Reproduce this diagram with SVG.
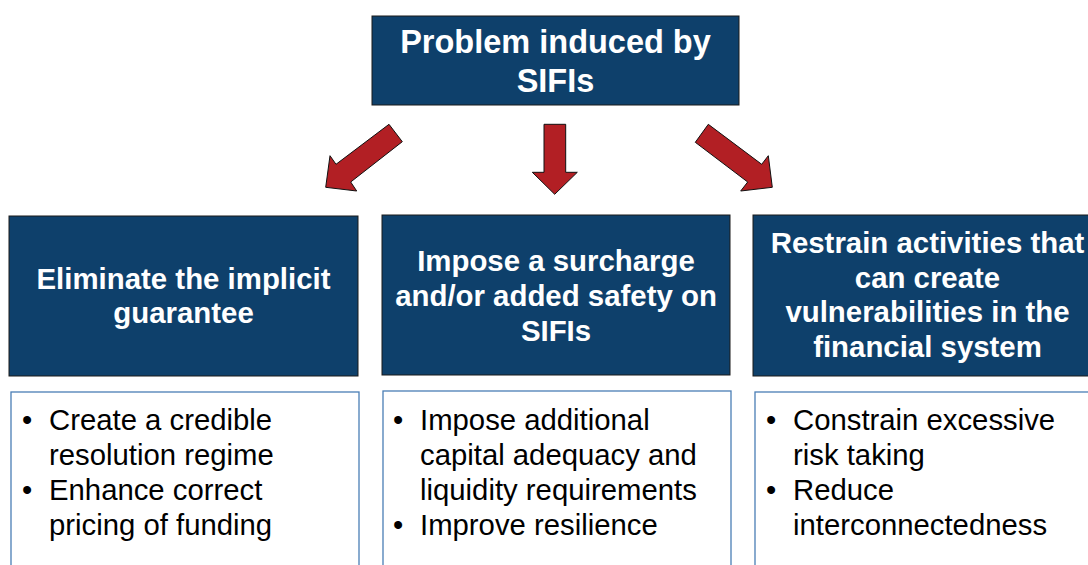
<svg xmlns="http://www.w3.org/2000/svg" width="1088" height="565" viewBox="0 0 1088 565">
<style>
.hdr{fill:#0e406b;stroke:#1a1a1a;stroke-width:1}
.list{fill:#ffffff;stroke:#4a7eb5;stroke-width:1.3}
.ht{font-family:"Liberation Sans",Arial,sans-serif;font-weight:bold;fill:#ffffff;text-anchor:middle}
.bt{font-family:"Liberation Sans",Arial,sans-serif;font-size:29.3px;fill:#000000}
.arr{fill:#b21f24;stroke:#111111;stroke-width:1;stroke-linejoin:miter}
</style>
<rect width="1088" height="565" fill="#ffffff"/>
<g id="top">
<rect class="hdr" x="372" y="16" width="367" height="89"/>
<text class="ht" font-size="32.5" x="555.5" y="53">Problem induced by</text>
<text class="ht" font-size="32.5" x="555.5" y="92">SIFIs</text>
</g>
<g id="connectors">
<polygon class="arr" points="389,124.3 402.3,141.7 350.7,182 356.7,191 325.7,187.3 330,155.7 336,164.3"/>
<polygon class="arr" points="544,124.3 565.7,124.3 565.7,172.3 577.3,172.3 554.7,194.3 532.3,172.3 544,172.3"/>
<polygon class="arr" points="708.3,124.3 695.3,142.3 747.7,182 740.7,191 772.3,187.3 768.3,155.7 761.7,164.3"/>
</g>
<g id="col1">
<rect class="hdr" x="9" y="216" width="349" height="160"/>
<text class="ht" font-size="29.4" x="183.5" y="289">Eliminate the implicit</text>
<text class="ht" font-size="29.4" x="183.5" y="323">guarantee</text>
</g>
<g id="col1-list">
<rect class="list" x="11" y="392" width="348" height="190"/>
<text class="bt" x="22" y="430">•</text>
<text class="bt" x="49" y="430">Create a credible</text>
<text class="bt" x="49" y="465">resolution regime</text>
<text class="bt" x="22" y="500">•</text>
<text class="bt" x="49" y="500">Enhance correct</text>
<text class="bt" x="49" y="535">pricing of funding</text>
</g>
<g id="col2">
<rect class="hdr" x="382" y="215" width="348" height="160"/>
<text class="ht" font-size="29.4" x="556" y="271">Impose a surcharge</text>
<text class="ht" font-size="29.4" x="556" y="306">and/or added safety on</text>
<text class="ht" font-size="29.4" x="556" y="341">SIFIs</text>
</g>
<g id="col2-list">
<rect class="list" x="383" y="391" width="348" height="190"/>
<text class="bt" x="393" y="430">•</text>
<text class="bt" x="420" y="430">Impose additional</text>
<text class="bt" x="420" y="465">capital adequacy and</text>
<text class="bt" x="420" y="500">liquidity requirements</text>
<text class="bt" x="393" y="535">•</text>
<text class="bt" x="420" y="535">Improve resilience</text>
</g>
<g id="col3">
<rect class="hdr" x="753" y="215" width="349" height="161"/>
<text class="ht" font-size="29.4" x="927.5" y="253">Restrain activities that</text>
<text class="ht" font-size="29.4" x="927.5" y="288">can create</text>
<text class="ht" font-size="29.4" x="927.5" y="322">vulnerabilities in the</text>
<text class="ht" font-size="29.4" x="927.5" y="357">financial system</text>
</g>
<g id="col3-list">
<rect class="list" x="755" y="392" width="348" height="190"/>
<text class="bt" x="766" y="430">•</text>
<text class="bt" x="793" y="430">Constrain excessive</text>
<text class="bt" x="793" y="465">risk taking</text>
<text class="bt" x="766" y="500">•</text>
<text class="bt" x="793" y="500">Reduce</text>
<text class="bt" x="793" y="535">interconnectedness</text>
</g>
</svg>
